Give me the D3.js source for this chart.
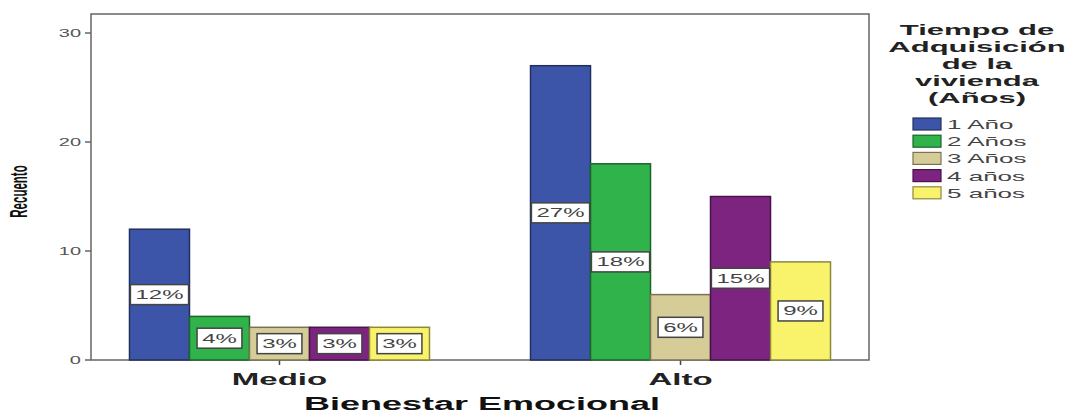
<!DOCTYPE html>
<html lang="es">
<head>
<meta charset="UTF-8">
<title>Bienestar Emocional</title>
<script src="https://d3js.org/d3.v7.min.js"></script>
<style>
  html, body { margin: 0; padding: 0; background: #fff; }
  svg text { font-family: Arial, "Liberation Sans", sans-serif; }
</style>
</head>
<body>
<svg id="chart" width="1070" height="414"></svg>
<script>
// data
const groups = ["Medio", "Alto"];
const series = ["1 Año", "2 Años", "3 Años", "4 años", "5 años"];
const medio = [12, 4, 3, 3, 3];
const alto = [27, 18, 6, 15, 9];
const pctMedio = ["12%", "4%", "3%", "3%", "3%"];
const pctAlto = ["27%", "18%", "6%", "15%", "9%"];
const yTicks = [0, 10, 20, 30];
const colors = ["#3d55a8", "#2fb34a", "#d6cc98", "#7d2480", "#f8f36a"];
const legendTitle = ["Tiempo de", "Adquisición", "de la", "vivienda", "(Años)"];

const values = { Medio: medio, Alto: alto };
const pcts = { Medio: pctMedio, Alto: pctAlto };

const svg = d3.select("#chart");
const SX = 2; // the source image is stretched horizontally; text follows it

const plot = { left: 91, top: 14, right: 869, bottom: 360 };

const x = d3.scalePoint().domain(groups).range([plot.left, plot.right]).padding(0.47);
const xs = d3.scaleBand().domain(series).range([-150, 150]).padding(0);
const y = d3.scaleLinear().domain([0, 30]).range([plot.bottom, 33]);

// frame
svg.append("rect")
  .attr("x", plot.left).attr("y", plot.top)
  .attr("width", plot.right - plot.left).attr("height", plot.bottom - plot.top)
  .attr("fill", "none").attr("stroke", "#666").attr("stroke-width", 1.5);

// y ticks
const yg = svg.append("g");
yTicks.forEach(t => {
  yg.append("line")
    .attr("x1", plot.left - 6).attr("x2", plot.left)
    .attr("y1", y(t)).attr("y2", y(t))
    .attr("stroke", "#666").attr("stroke-width", 1.5);
  yg.append("text")
    .attr("transform", `translate(${plot.left - 10},${y(t) + 3.5}) scale(${SX},1)`)
    .attr("text-anchor", "end")
    .attr("font-size", 10)
    .attr("fill", "#555")
    .text(t);
});

// x ticks & labels
groups.forEach(g => {
  svg.append("line")
    .attr("x1", x(g)).attr("x2", x(g))
    .attr("y1", plot.bottom).attr("y2", plot.bottom + 5)
    .attr("stroke", "#444").attr("stroke-width", 1.5);
  svg.append("text")
    .attr("transform", `translate(${x(g)},${plot.bottom + 25}) scale(${SX},1)`)
    .attr("text-anchor", "middle")
    .attr("font-size", 16.5).attr("font-weight", "bold")
    .attr("fill", "#222")
    .text(g);
});

// axis titles
svg.append("text")
  .attr("transform", `translate(${(plot.left + plot.right) / 2 + 2},${plot.bottom + 50}) scale(${SX},1)`)
  .attr("text-anchor", "middle")
  .attr("font-size", 18).attr("font-weight", "bold")
  .attr("fill", "#111")
  .text("Bienestar Emocional");

svg.append("text")
  .attr("transform", `translate(27,${(y(0) + y(30)) / 2 - 5}) scale(${SX},1) rotate(-90)`)
  .attr("text-anchor", "middle")
  .attr("font-size", 11.5).attr("font-weight", "bold")
  .attr("fill", "#111")
  .text("Recuento");

// bars
const bars = svg.append("g");
groups.forEach(g => {
  const gg = bars.append("g").attr("transform", `translate(${x(g)},0)`);
  series.forEach((s, i) => {
    const v = values[g][i];
    gg.append("rect")
      .attr("x", xs(s)).attr("y", y(v))
      .attr("width", xs.bandwidth()).attr("height", y(0) - y(v))
      .attr("fill", colors[i])
      .attr("stroke", d3.color(colors[i]).darker(1.6))
      .attr("stroke-width", 1.5);
  });
  series.forEach((s, i) => {
    const v = values[g][i];
    const cx = xs(s) + xs.bandwidth() / 2;
    const cy = y(v / 2);
    const lab = gg.append("g").attr("transform", `translate(${cx},${cy})`);
    const t = lab.append("text")
      .attr("transform", `scale(${SX},1)`)
      .attr("text-anchor", "middle")
      .attr("dy", "0.36em")
      .attr("font-size", 12)
      .attr("fill", "#444")
      .text(pcts[g][i]);
    const w = t.node().getBBox().width * SX + 10;
    lab.insert("rect", "text")
      .attr("x", -w / 2).attr("y", -10)
      .attr("width", w).attr("height", 20)
      .attr("fill", "#fff")
      .attr("stroke", "#444").attr("stroke-width", 1.5);
  });
});

// legend
const lg = svg.append("g");
legendTitle.forEach((line, i) => {
  lg.append("text")
    .attr("transform", `translate(977,${35 + i * 17}) scale(${SX},1)`)
    .attr("text-anchor", "middle")
    .attr("font-size", 15.5).attr("font-weight", "bold")
    .attr("fill", "#222")
    .text(line);
});
series.forEach((s, i) => {
  const yy = 118 + i * 17.2;
  lg.append("rect")
    .attr("x", 913).attr("y", yy)
    .attr("width", 28).attr("height", 12)
    .attr("fill", colors[i])
    .attr("stroke", d3.color(colors[i]).darker(1.6))
    .attr("stroke-width", 1.2);
  lg.append("text")
    .attr("transform", `translate(947,${yy + 11}) scale(${SX},1)`)
    .attr("font-size", 13)
    .attr("fill", "#444")
    .text(s);
});
</script>
</body>
</html>
